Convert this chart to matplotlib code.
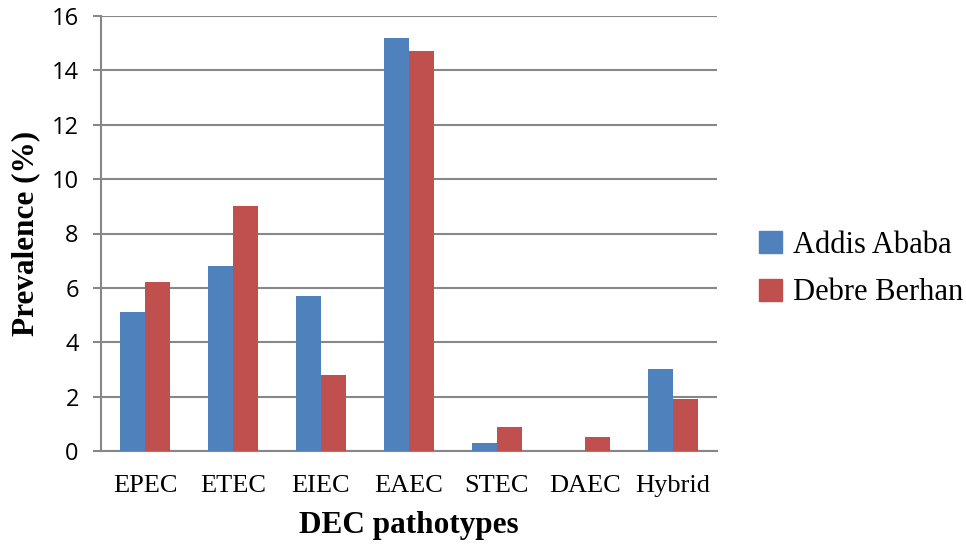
import numpy as np
import matplotlib.pyplot as plt
from matplotlib.patches import Patch

categories = ['EPEC', 'ETEC', 'EIEC', 'EAEC', 'STEC', 'DAEC', 'Hybrid']
addis = [5.1, 6.8, 5.7, 15.2, 0.3, 0.0, 3.0]
debre = [6.2, 9.0, 2.8, 14.7, 0.9, 0.5, 1.9]
series_names = ['Addis Ababa', 'Debre Berhan']

blue = '#4F81BD'
red = '#C0504D'
grid_col = '#878787'

fig = plt.figure(figsize=(9.66, 5.45), dpi=100)
ax = fig.add_axes([101/966, 1 - 451/545, 616/966, 435/545])

ind = np.arange(len(categories))
width = 0.285
ax.bar(ind - width/2, addis, width, color=blue, zorder=3)
ax.bar(ind + width/2, debre, width, color=red, zorder=3)

ax.set_xlim(-0.5, len(categories) - 0.5)
ax.set_ylim(0, 16)
ax.set_yticks(np.arange(0, 17, 2))
ax.yaxis.grid(True, color=grid_col, linewidth=1.5, zorder=0)
ax.set_axisbelow(True)

for s in ['top', 'right']:
    ax.spines[s].set_visible(False)
ax.spines['left'].set_color(grid_col)
ax.spines['bottom'].set_color(grid_col)
ax.spines['left'].set_linewidth(1.5)
ax.spines['bottom'].set_linewidth(1.5)

ax.tick_params(axis='y', length=6, width=1.5, color=grid_col, labelsize=17, pad=10)
ax.tick_params(axis='x', length=0, pad=17)
for lab in ax.get_yticklabels():
    lab.set_family('Open Sans')

ax.set_xticks(ind)
ax.set_xticklabels(categories, family='Liberation Serif', fontsize=19)

ax.set_ylabel('Prevalence (%)', family='Liberation Serif', fontsize=22.5,
              fontweight='bold', labelpad=8)
ax.set_xlabel('DEC pathotypes', family='Liberation Serif', fontsize=22.5,
              fontweight='bold', labelpad=10)

handles = [Patch(color=blue), Patch(color=red)]
fig.legend(handles, series_names, loc='center left', bbox_to_anchor=(759/966, 1 - 269/545),
           frameon=False, prop={'family': 'Liberation Serif', 'size': 22},
           borderpad=0, borderaxespad=0,
           handlelength=0.75, handleheight=0.75, handletextpad=0.35, labelspacing=0.62)

plt.savefig('out.png', dpi=100)
